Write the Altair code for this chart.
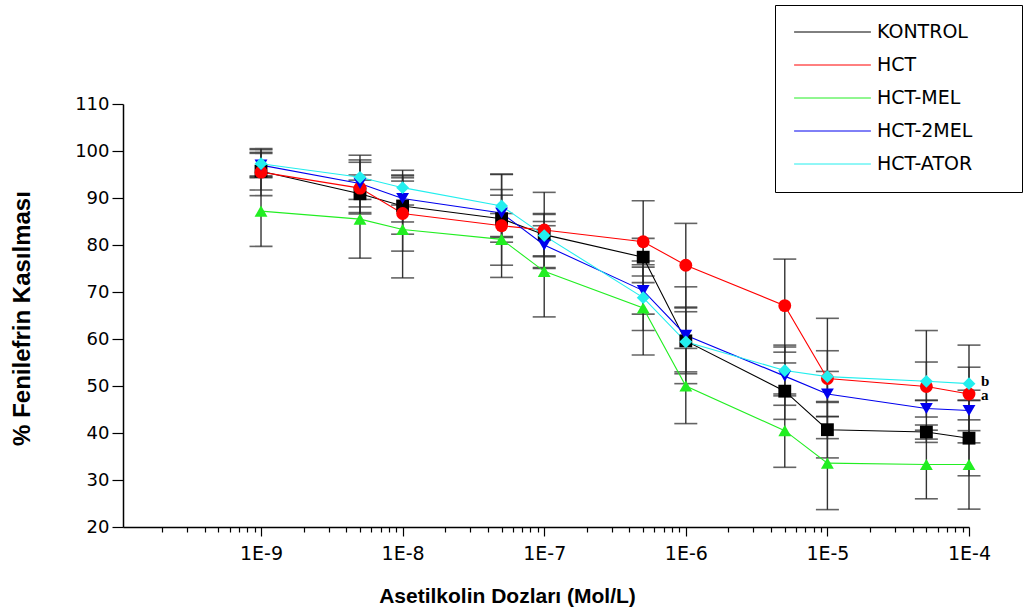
import altair as alt
import pandas as pd

# ---------------- data ----------------
doses = [1e-9, 5e-9, 1e-8, 5e-8, 1e-7, 5e-7, 1e-6, 5e-6, 1e-5, 5e-5, 1e-4]
series_names = ["KONTROL", "HCT", "HCT-MEL", "HCT-2MEL", "HCT-ATOR"]

kontrol = [95.7, 90.9, 88.3, 85.6, 82.2, 77.4, 59.6, 48.9, 40.7, 40.2, 38.9]
kontrol_err = [4.0, 4.0, 6.0, 5.0, 4.5, 4.0, 7.0, 6.0, 6.0, 1.5, 8.0]
hct = [95.5, 92.1, 86.7, 84.1, 83.2, 80.7, 75.7, 67.1, 51.6, 49.9, 48.3]
hct_err = [5.0, 5.5, 8.0, 11.0, 8.0, 8.7, 8.9, 9.9, 12.8, 11.9, 10.4]
hct_mel = [87.2, 85.5, 83.3, 81.2, 74.4, 66.6, 50.0, 40.5, 33.6, 33.3, 33.3]
hct_mel_err = [7.5, 8.3, 10.3, 5.5, 9.7, 10.0, 8.0, 7.8, 9.9, 7.3, 9.5]
hct_2mel = [97.0, 93.1, 89.9, 86.8, 80.0, 70.3, 60.8, 52.1, 48.3, 45.2, 44.8]
hct_2mel_err = [2.5, 5.0, 5.0, 5.0, 5.0, 5.0, 10.3, 6.2, 4.8, 1.8, 4.3]
hct_ator = [97.3, 94.4, 92.2, 88.3, 82.0, 68.8, 59.4, 53.3, 52.0, 51.0, 50.5]
hct_ator_err = [3.0, 4.7, 3.7, 6.7, 4.5, 7.0, 6.4, 5.4, 5.5, 4.1, 3.5]

annot_labels = ["b", "a"]
annot_doses = [1e-4, 1e-4]
annot_values = [50.5, 48.3]

colors = ["#000000", "#ff0000", "#22ee22", "#0000ee", "#22eeee"]
shapes = ["square", "circle", "triangle-up", "triangle-down", "diamond"]

values = [kontrol, hct, hct_mel, hct_2mel, hct_ator]
errors = [kontrol_err, hct_err, hct_mel_err, hct_2mel_err, hct_ator_err]

line_keys = ["L:" + n for n in series_names]

rows = []
for name, lkey, vals, errs in zip(series_names, line_keys, values, errors):
    for d, v, e in zip(doses, vals, errs):
        rows.append({"dose": d, "series": name, "group": name, "lkey": lkey,
                     "value": v, "low": v - e, "high": v + e})
df = pd.DataFrame(rows)
annot_df = pd.DataFrame({"dose": annot_doses, "value": annot_values, "label": annot_labels})

# ---------------- axes ----------------
x_min = 1.06e-10
x_ticks = [m * 10.0 ** d for d in range(-10, -4) for m in range(1, 10)] + [1e-4]
x_ticks = [t for t in x_ticks if t >= x_min]
decade_test = "abs(log(datum.value)/LN10 - round(log(datum.value)/LN10)) < 0.001"

FONT = "Liberation Sans"
LFONT = "DejaVu Sans"

x_scale = alt.Scale(type="log", domain=[x_min, 1e-4], nice=False)
y_scale = alt.Scale(domain=[20, 110], nice=False, zero=False)

x_axis = alt.Axis(
    values=x_ticks,
    labelExpr=f"({decade_test}) ? '1E' + round(log(datum.value)/LN10) : ''",
    tickSize={"condition": {"test": decade_test, "value": 9}, "value": 5},
    grid=False, domainColor="black", domainWidth=1.5, tickColor="black", tickWidth=1.2,
    labelFont=LFONT, labelFontSize=19, labelColor="black", labelPadding=8,
    labelOverlap=False, labelFlush=False,
    title="Asetilkolin Dozları (Mol/L)", titleFont=FONT, titleFontSize=21,
    titleFontWeight="bold", titleColor="black", titleX=384, titleY=58,
    titleAlign="center", titleBaseline="top",
)
y_axis = alt.Axis(
    values=list(range(20, 111, 5)),
    labelExpr="datum.value % 10 === 0 ? datum.label : ''",
    tickSize={"condition": {"test": "datum.value % 10 === 0", "value": 11}, "value": 6},
    grid=False, domainColor="black", domainWidth=1.5, tickColor="black", tickWidth=1.2,
    labelFont=LFONT, labelFontSize=18, labelColor="black", labelPadding=3,
    title="% Fenilefrin Kasılması", titleFont=FONT, titleFontSize=24,
    titleFontWeight="bold", titleColor="black",
    titleX=-101, titleY=214, titleAngle=270, titleAlign="center", titleBaseline="middle",
)

# ---------------- legends (two overlaid legends: line symbols + marker symbols) ----
common_legend = dict(
    orient="none", legendX=652, legendY=-99, padding=17.5,
    symbolSize=144, symbolOffset=30.5, labelOffset=35, rowPadding=13,
    symbolStrokeWidth=1, labelFont=LFONT, labelFontSize=19, labelColor="black",
)
line_legend = alt.Legend(
    symbolType="M-6.4,0H6.4", strokeColor="black",
    labelExpr="replace(datum.label, 'L:', '')",
    title="M", titleOrient="right", titleOpacity=0, titleFont=LFONT,
    titleFontSize=19, titlePadding=13, zindex=0, **common_legend,
)
marker_legend = alt.Legend(title=None, labelOpacity=0, zindex=1, **common_legend)

stroke = alt.Stroke("lkey:N", scale=alt.Scale(domain=line_keys, range=colors),
                    legend=line_legend)
fill = alt.Fill("series:N", scale=alt.Scale(domain=series_names, range=colors),
                legend=marker_legend)
shape = alt.Shape("group:N", scale=alt.Scale(domain=series_names, range=shapes), legend=None)

base = alt.Chart(df)
X = alt.X("dose:Q", scale=x_scale, axis=x_axis)

rules = base.mark_rule(color="#333333", strokeWidth=1.4).encode(
    x=X, y=alt.Y("low:Q", scale=y_scale, axis=y_axis), y2="high:Q")
cap_lo = base.mark_tick(color="#222222", orient="horizontal", size=23, thickness=1.6).encode(
    x="dose:Q", y="low:Q")
cap_hi = base.mark_tick(color="#222222", orient="horizontal", size=23, thickness=1.6).encode(
    x="dose:Q", y="high:Q")
lines = base.mark_line(strokeWidth=1.1).encode(
    x="dose:Q", y="value:Q", stroke=stroke, order="dose:Q")
points = base.mark_point(filled=True, size=165, opacity=1, strokeWidth=0).encode(
    x="dose:Q", y="value:Q", fill=fill, shape=shape)

annot_base = alt.Chart(annot_df).encode(x="dose:Q", y="value:Q", text="label:N")
annot_b = annot_base.transform_filter("datum.label === 'b'").mark_text(
    font="Liberation Serif", fontWeight="bold", fontSize=15, color="black",
    align="left", baseline="middle", dx=12, dy=-3)
annot_a = annot_base.transform_filter("datum.label === 'a'").mark_text(
    font="Liberation Serif", fontWeight="bold", fontSize=15, color="black",
    align="left", baseline="middle", dx=12, dy=1.5)

chart = alt.layer(rules, cap_lo, cap_hi, lines, points, annot_b, annot_a).properties(
    width=846, height=423,
    padding={"left": 123, "top": 104, "right": 55, "bottom": 88},
    autosize=alt.AutoSizeParams(type="none"),
    background="white",
).configure_view(stroke=None)

chart.save("out.html", embed_options={"renderer": "svg", "actions": False})
